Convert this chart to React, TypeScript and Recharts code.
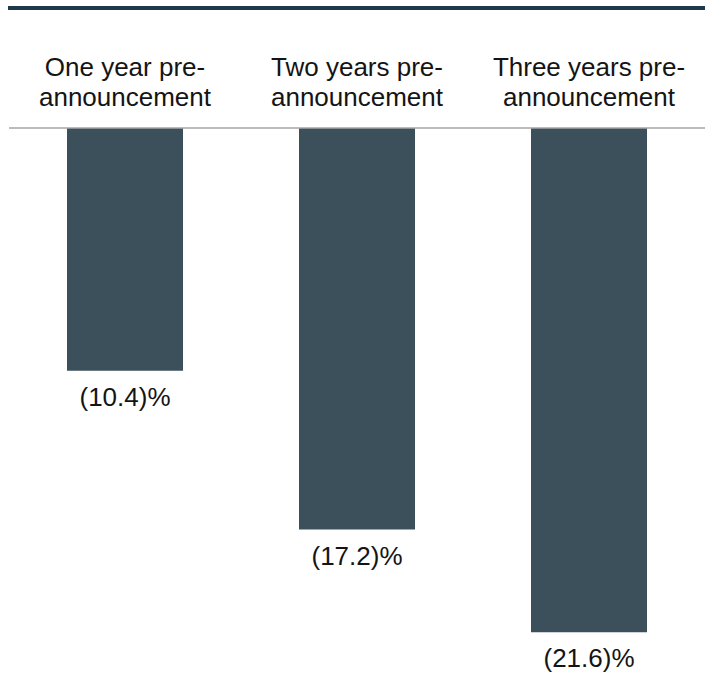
import { BarChart, Bar, XAxis, YAxis, LabelList } from 'recharts';

const periodLine1 = ['One year pre-', 'Two years pre-', 'Three years pre-'];
const periodLine2 = ['announcement', 'announcement', 'announcement'];
const returns = [-10.4, -17.2, -21.6];

const BAR_COLOR = '#3b505b';
const TEXT_COLOR = '#141414';
const FONT = '"Liberation Sans", Arial, sans-serif';

const data = periodLine1.map((p, i) => ({
  period: `${p} ${periodLine2[i]}`,
  value: returns[i],
}));

function PeriodTick({ x, index }: any) {
  return (
    <text x={x} textAnchor="middle" fill={TEXT_COLOR} fontSize={26} fontFamily={FONT}>
      <tspan x={x} y={76}>{periodLine1[index]}</tspan>
      <tspan x={x} y={106}>{periodLine2[index]}</tspan>
    </text>
  );
}

function ValueLabel({ x, y, width, height, value }: any) {
  const end = Math.max(y, y + height);
  return (
    <text
      x={x + width / 2}
      y={end + 35}
      textAnchor="middle"
      fill={TEXT_COLOR}
      fontSize={26}
      fontFamily={FONT}
    >
      {`(${Math.abs(value).toFixed(1)})%`}
    </text>
  );
}

export default function App() {
  return (
    <div style={{ position: 'absolute', left: 0, top: 0, width: 705, height: 674, background: '#fff', overflow: 'hidden' }}>
      <div style={{ position: 'absolute', left: 8, top: 6, width: 697, height: 4, background: '#1d3a4d' }} />
      <BarChart
        width={705}
        height={674}
        data={data}
        margin={{ top: 0, right: 0, left: 9, bottom: 9 }}
        barSize={116}
      >
        <XAxis
          dataKey="period"
          orientation="top"
          height={128}
          axisLine={{ stroke: '#a6a6a6', strokeWidth: 1.5 }}
          tickLine={false}
          tick={<PeriodTick />}
          interval={0}
        />
        <YAxis hide domain={[-23, 0]} />
        <Bar dataKey="value" fill={BAR_COLOR} isAnimationActive={false}>
          <LabelList dataKey="value" content={<ValueLabel />} />
        </Bar>
      </BarChart>
    </div>
  );
}
